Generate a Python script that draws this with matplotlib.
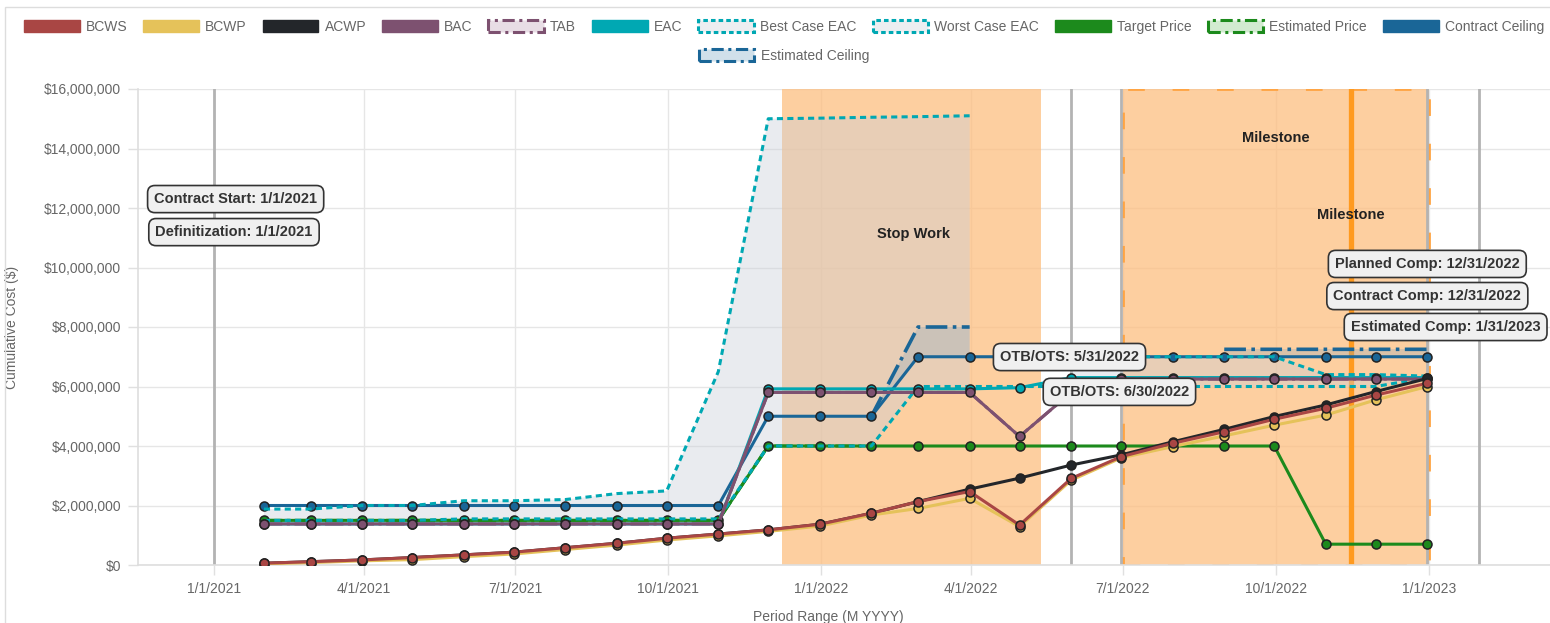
import numpy as np
import pandas as pd
import matplotlib
matplotlib.use("Agg")
import matplotlib.pyplot as plt
import matplotlib.dates as mdates
from matplotlib.patches import Patch, Rectangle
from matplotlib.ticker import FuncFormatter, MultipleLocator

plt.rcParams['font.family'] = ['Liberation Sans', 'DejaVu Sans']

nan = np.nan

# month-end reporting periods
months = pd.date_range('2021-01-31', periods=24, freq='ME')

# values in millions of dollars
bcws = [0.06, 0.11, 0.17, 0.25, 0.34, 0.43, 0.58, 0.73, 0.90, 1.04, 1.18, 1.37,
        1.74, 2.13, 2.47, 1.34, 2.91, 3.64, 4.09, 4.48, 4.90, 5.27, 5.71, 6.11]
bcwp = [0.04, 0.08, 0.14, 0.18, 0.28, 0.37, 0.52, 0.67, 0.84, 0.98, 1.13, 1.31,
        1.68, 1.90, 2.24, 1.29, 2.85, 3.60, 3.98, 4.34, 4.70, 5.04, 5.55, 6.00]
acwp = [0.06, 0.11, 0.17, 0.25, 0.34, 0.43, 0.58, 0.73, 0.90, 1.04, 1.18, 1.37,
        1.74, 2.13, 2.55, 2.92, 3.36, 3.70, 4.14, 4.56, 4.99, 5.38, 5.83, 6.27]
bac = [1.38] * 10 + [5.8] * 5 + [4.32, 5.8] + [6.25] * 7
tab = list(bac)
eac = [1.38] * 10 + [5.92] * 5 + [5.96, 6.3] + [6.3] * 7
best_eac = [1.5, 1.5, 1.5, 1.5, 1.55, 1.55, 1.55, 1.55, 1.55, 1.55, 4.0, 4.0,
            4.0, 6.0, 6.0, 6.0, 6.0, 6.0, 6.0, 6.0, 6.0, 6.0, 6.0, 6.3]
worst_eac = [1.88, 1.88, 2.0, 2.0, 2.16, 2.16, 2.2, 2.4, 2.49, 6.5, 15.0, 15.02,
             15.05, 15.07, 15.1, nan, 7.0, 7.0, 7.0, 7.0, 7.0, 6.4, 6.4, 6.35]
target_price = [1.5] * 10 + [4.0] * 11 + [0.7] * 3
est_price = [1.5] * 10 + [4.0] * 3 + [nan] * 11
ceiling = [2.0] * 10 + [5.0] * 3 + [7.0] * 11
est_ceiling = [nan] * 12 + [5.0, 8.0, 8.0] + [nan] * 4 + [7.25] * 5

# key dates
events = ['2021-01-01', '2022-05-31', '2022-06-30', '2022-12-31', '2023-01-31']
stop_work = ('2021-12-08', '2022-05-13')
milestone_span = ('2022-07-01', '2023-01-01')
milestone_day = '2022-11-15'

c_bcws = '#a94644'
c_bcwp = '#e5c25a'
c_acwp = '#23262a'
c_bac = '#7d5170'
c_eac = '#00a8b3'
c_green = '#1c8a1c'
c_blue = '#1a6697'
c_orange = '#fdbf80'

M = 1e6

fig = plt.figure(figsize=(15.5, 6.23), dpi=100)
ax = fig.add_axes([138 / 1550, 58 / 623, 1412 / 1550, 476 / 623])

# background regions
ax.axvspan(pd.Timestamp(stop_work[0]), pd.Timestamp(stop_work[1]),
           color=c_orange, alpha=0.75, lw=0, zorder=1)
ax.axvspan(pd.Timestamp(milestone_span[0]), pd.Timestamp(milestone_span[1]),
           color=c_orange, alpha=0.75, lw=0, zorder=1)
x0 = mdates.date2num(pd.Timestamp(milestone_span[0]))
x1 = mdates.date2num(pd.Timestamp(milestone_span[1]))
ax.add_patch(Rectangle((x0, 0), x1 - x0, 16 * M, fill=False, ec='#ffa443',
                       lw=2, ls=(0, (6, 10)), zorder=1.5))
ax.axvline(pd.Timestamp(milestone_day), color='#ff9a1f', lw=3.8, zorder=2)
for d in events:
    ax.axvline(pd.Timestamp(d), color='#b3b3b3', lw=2, zorder=2)

# fills
w = np.array(worst_eac)
b = np.array(best_eac)
ok = ~np.isnan(w) & ~np.isnan(b)
ax.fill_between(months, np.nan_to_num(w) * M, np.nan_to_num(b) * M, where=ok,
                color='#c9ced8', alpha=0.4, lw=0, zorder=3)
ec = np.array(est_ceiling)
cc = np.array(ceiling)
ok2 = ~np.isnan(ec)
ax.fill_between(months, np.nan_to_num(ec) * M, cc * M, where=ok2,
                color='#8aa7bd', alpha=0.3, lw=0, zorder=3)


def series(vals, color, z, ls='-', lw=2.2, marker='o'):
    ax.plot(months, np.array(vals) * M, color=color, ls=ls, lw=lw,
            marker=marker, ms=6.5, mfc=color, mec='#222', mew=1.1, zorder=z)


dashdot = (0, (6, 1.5, 1, 1.5))
dotted = (0, (2, 1.4))

series(est_ceiling, c_blue, 5, ls=dashdot, lw=2.6, marker=None)
series(ceiling, c_blue, 6)
series(est_price, c_green, 7, ls=dashdot, marker=None)
series(target_price, c_green, 8)
series(worst_eac, c_eac, 9, ls=dotted, marker=None)
series(best_eac, c_eac, 10, ls=dotted, marker=None)
series(eac, c_eac, 11)
series(tab, c_bac, 12, ls=dashdot, marker=None)
series(bac, c_bac, 13)
series(acwp, c_acwp, 14)
series(bcwp, c_bcwp, 15)
series(bcws, c_bcws, 16)

# axes styling
ax.set_xlim(pd.Timestamp('2020-11-16 08:00'), pd.Timestamp('2023-03-14 17:00'))
ax.set_ylim(0, 16 * M)
ax.yaxis.set_major_locator(MultipleLocator(2 * M))
ax.yaxis.set_major_formatter(FuncFormatter(lambda v, p: '${:,.0f}'.format(v)))
qticks = pd.date_range('2021-01-01', '2023-01-01', freq='QS')
ax.set_xticks(qticks)
ax.xaxis.set_major_formatter(FuncFormatter(
    lambda v, p: '{d.month}/{d.day}/{d.year}'.format(d=mdates.num2date(v))))
ax.grid(True, color='#e6e6e6', lw=1, zorder=0)
ax.set_axisbelow(True)
for s in ['top', 'right']:
    ax.spines[s].set_visible(False)
for s in ['left', 'bottom']:
    ax.spines[s].set_color('#dedede')
    ax.spines[s].set_linewidth(1.2)
ax.tick_params(colors='#e0e0e0', labelcolor='#666666', labelsize=10, length=7,
               width=1, pad=5)
ax.set_ylabel('Cumulative Cost ($)', color='#666666', fontsize=10)
ax.yaxis.set_label_coords(-0.084, 0.5)
ax.set_xlabel('Period Range (M YYYY)', color='#666666', fontsize=10)
ax.xaxis.set_label_coords(0.489, -0.094)

# annotations
box = dict(boxstyle='round,pad=0.45,rounding_size=0.5', fc='#f0f0f0',
           ec='#333333', lw=1.2)


def label(x, y, text):
    ax.text(pd.Timestamp(x), y * M, text, ha='center', va='center',
            fontsize=10.5, fontweight='bold', color='#333333', bbox=box,
            zorder=30)


label('2021-01-14', 12.3, 'Contract Start: 1/1/2021')
label('2021-01-13', 11.19, 'Definitization: 1/1/2021')
label('2022-05-30', 6.99, 'OTB/OTS: 5/31/2022')
label('2022-06-29', 5.82, 'OTB/OTS: 6/30/2022')
label('2022-12-31', 10.12, 'Planned Comp: 12/31/2022')
label('2022-12-31', 9.04, 'Contract Comp: 12/31/2022')
label('2023-01-11', 8.0, 'Estimated Comp: 1/31/2023')

for x, y, t in [('2022-02-25', 11.12, 'Stop Work'),
                ('2022-10-01', 14.35, 'Milestone'),
                (milestone_day, 11.76, 'Milestone')]:
    ax.text(pd.Timestamp(x), y * M, t, ha='center', va='center', fontsize=10.5,
            fontweight='bold', color='#222222', zorder=30)

# legend
lk = dict(lw=2.2)
handles = [
    Patch(fc=c_bcws, ec=c_bcws, label='BCWS'),
    Patch(fc=c_bcwp, ec=c_bcwp, label='BCWP'),
    Patch(fc=c_acwp, ec=c_acwp, label='ACWP'),
    Patch(fc=c_bac, ec=c_bac, label='BAC'),
    Patch(fc='#e8dde5', ec=c_bac, ls=(0, (4, 1.5, 1, 1.5)), label='TAB', **lk),
    Patch(fc=c_eac, ec=c_eac, label='EAC'),
    Patch(fc='#eceef1', ec=c_eac, ls=(0, (1.5, 1)), label='Best Case EAC', **lk),
    Patch(fc='#eceef1', ec=c_eac, ls=(0, (1.5, 1)), label='Worst Case EAC', **lk),
    Patch(fc=c_green, ec=c_green, label='Target Price'),
    Patch(fc='#d2ebd0', ec=c_green, ls=(0, (4, 1.5, 1, 1.5)), label='Estimated Price', **lk),
    Patch(fc=c_blue, ec=c_blue, label='Contract Ceiling'),
]
handles2 = [Patch(fc='#d0e0ea', ec=c_blue, ls=(0, (4, 1.5, 1, 1.5)),
                  label='Estimated Ceiling', **lk)]
lopts = dict(loc='center', frameon=False, fontsize=10, handlelength=4.0,
             handleheight=1.0, handletextpad=0.45, columnspacing=1.15,
             labelcolor='#666666')
fig.legend(handles=handles, ncol=11, bbox_to_anchor=(784 / 1550, 1 - 27 / 623), **lopts)
fig.legend(handles=handles2, ncol=1, bbox_to_anchor=(784 / 1550, 1 - 56 / 623), **lopts)

# card outline
fig.patches.append(Rectangle((5 / 1550, -0.01), 1.0, 1 - 7 / 623 + 0.01,
                             transform=fig.transFigure, fill=False,
                             ec='#dddddd', lw=1))

fig.savefig('out.png', dpi=100)
